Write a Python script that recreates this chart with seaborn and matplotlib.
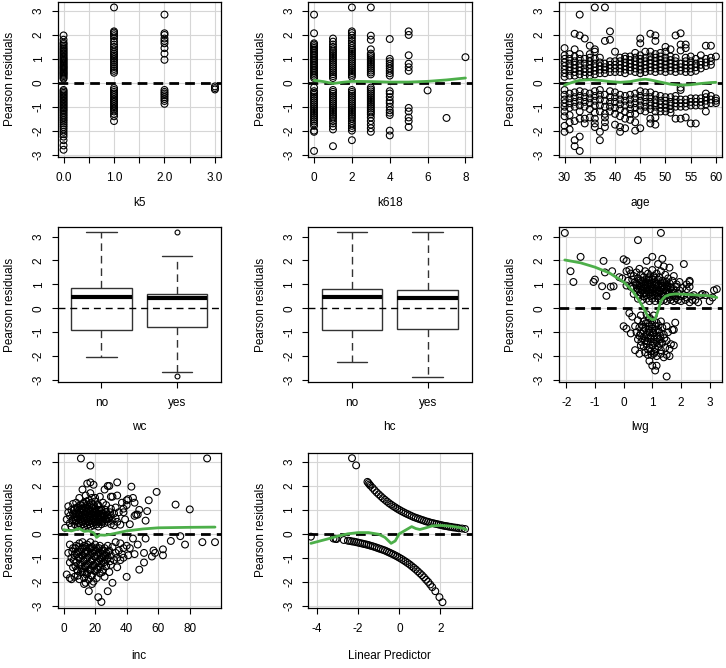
import matplotlib
matplotlib.use("Agg")
import matplotlib.pyplot as plt
import seaborn as sns
import pandas as pd

sns.set_theme(style="white")
plt.rcParams['font.family'] = ['Liberation Sans', 'DejaVu Sans']
plt.rcParams['axes.unicode_minus'] = False

# ---------------- data ----------------
YTICKS = [-3, -2, -1, 0, 1, 2, 3]

# k5
k5_levels = [0, 1, 2, 3]
k5_res_0 = [0.17, 0.22, 0.28, 0.33, 0.38, 0.42, 0.47, 0.52, 0.57, 0.62, 0.66, 0.71, 0.76, 0.81, 0.86,
            0.91, 0.96, 1.01, 1.06, 1.12, 1.18, 1.24, 1.3, 1.36, 1.42, 1.48, 1.55, 1.62, 1.68, 1.8, 1.98,
            -0.3, -0.36, -0.42, -0.48, -0.54, -0.6, -0.66, -0.72, -0.78, -0.84, -0.9, -0.96, -1.02, -1.08,
            -1.14, -1.2, -1.27, -1.34, -1.41, -1.48, -1.55, -1.62, -1.7, -1.78, -1.86, -1.95, -2.05, -2.15,
            -2.25, -2.4, -2.62, -2.8]
k5_res_1 = [0.42, 0.5, 0.58, 0.66, 0.75, 0.84, 0.92, 1.0, 1.08, 1.15, 1.22, 1.3, 1.4, 1.5, 1.6, 1.72,
            1.85, 1.95, 2.03, 2.1, 2.15, 3.15,
            -0.22, -0.3, -0.38, -0.45, -0.52, -0.6, -0.68, -0.75, -0.82, -0.9, -0.98, -1.05, -1.12, -1.2,
            -1.3, -1.4, -1.6]
k5_res_2 = [0.96, 1.22, 1.45, 1.65, 1.75, 1.85, 2.0, 2.07, 2.85,
            -0.3, -0.38, -0.45, -0.52, -0.6, -0.68, -0.76, -0.88]
k5_res_3 = [-0.15, -0.22, -0.28]

# k618
k618_levels = [0, 1, 2, 3, 4, 5, 6, 7, 8]
k618_res_0 = [0.2, 0.27, 0.34, 0.41, 0.48, 0.55, 0.62, 0.69, 0.76, 0.83, 0.9, 0.97, 1.04, 1.11, 1.18,
              1.25, 1.32, 1.39, 1.46, 1.53, 1.6, 1.65, 2.07, 2.85,
              -0.2, -0.35, -0.42, -0.5, -0.58, -0.66, -0.74, -0.82, -0.9, -0.98, -1.06, -1.14, -1.22,
              -1.3, -1.38, -1.46, -1.54, -1.62, -1.7, -1.8, -2.0, -2.05, -2.85]
k618_res_1 = [0.2, 0.28, 0.36, 0.44, 0.52, 0.6, 0.68, 0.76, 0.84, 0.92, 1.0, 1.08, 1.16, 1.24, 1.32,
              1.4, 1.5, 1.6, 1.72, 1.85,
              -0.3, -0.38, -0.46, -0.54, -0.62, -0.7, -0.78, -0.86, -0.94, -1.02, -1.1, -1.18, -1.26,
              -1.34, -1.42, -1.5, -1.6, -1.7, -1.82, -1.95, -2.65]
k618_res_2 = [0.25, 0.33, 0.41, 0.49, 0.57, 0.65, 0.73, 0.81, 0.89, 0.97, 1.05, 1.13, 1.21, 1.29, 1.37,
              1.45, 1.55, 1.65, 1.75, 1.87, 1.98, 2.08, 2.15, 3.15,
              -0.3, -0.38, -0.46, -0.54, -0.62, -0.7, -0.78, -0.86, -0.94, -1.02, -1.1, -1.18, -1.26,
              -1.34, -1.42, -1.5, -1.6, -1.7, -1.8, -1.9, -2.0, -2.4]
k618_res_3 = [0.35, 0.43, 0.51, 0.59, 0.67, 0.75, 0.83, 0.91, 0.99, 1.07, 1.15, 1.22, 1.4, 1.8, 1.97, 3.15,
              -0.2, -0.28, -0.36, -0.44, -0.52, -0.6, -0.68, -0.76, -0.84, -0.92, -1.0, -1.08, -1.16,
              -1.24, -1.32, -1.45, -1.6, -1.75, -1.9, -2.05]
k618_res_4 = [0.3, 0.4, 0.5, 0.6, 0.7, 0.8, 0.9, 1.0, 1.83,
              -0.35, -0.45, -0.6, -0.75, -0.85, -1.0, -1.15, -1.25, -1.35, -2.0, -2.2]
k618_res_5 = [0.5, 0.65, 0.8, 1.15, 2.0, 2.15, -1.05, -1.2, -1.45, -1.6, -1.85]
k618_res_6 = [-0.32]
k618_res_7 = [-1.47]
k618_res_8 = [1.07]
k618_smooth_x = [0, 0.5, 1, 1.5, 2, 3, 4, 5, 6, 7, 8]
k618_smooth_y = [0.1, 0.05, -0.03, 0.02, 0.06, 0.05, 0.03, 0.03, 0.06, 0.12, 0.2]

# age
age_levels = [30, 31, 32, 33, 34, 35, 36, 37, 38, 39, 40, 41, 42, 43, 44, 45,
              46, 47, 48, 49, 50, 51, 52, 53, 54, 55, 56, 57, 58, 59, 60]
age_res = [
    [0.25, 0.4, 0.55, 0.7, 0.85, 1.0, 1.15, 1.45, -0.3, -0.5, -0.7, -0.85, -1.0, -1.2, -1.4, -1.8, -2.05],
    [0.3, 0.5, 0.65, 0.8, 1.0, 1.2, -0.45, -0.65, -0.85, -1.05, -1.35, -1.65, -1.95],
    [0.3, 0.45, 0.6, 0.75, 0.9, 1.1, 1.4, 2.05, -0.4, -0.6, -0.8, -1.0, -1.6, -2.4, -2.65],
    [0.35, 0.5, 0.65, 0.8, 1.0, 1.2, 1.98, 2.85, -0.35, -0.55, -0.75, -0.95, -1.2, -1.5, -2.25, -2.85],
    [0.3, 0.45, 0.6, 0.8, 1.0, 1.85, -0.4, -0.6, -0.8, -1.0, -1.5, -1.7],
    [0.3, 0.45, 0.6, 0.75, 0.9, 1.05, 1.2, 1.55, -0.45, -0.65, -0.85, -1.1, -1.45],
    [0.35, 0.5, 0.65, 0.8, 1.0, 1.3, 1.4, 3.15, -0.35, -0.55, -0.75, -0.95, -1.25, -1.5, -1.7, -1.85],
    [0.4, 0.55, 0.7, 0.85, 1.05, -0.3, -0.5, -0.7, -0.95, -1.2, -2.05, -2.4],
    [0.4, 0.55, 0.65, 0.8, 1.75, 3.15, -0.5, -0.75, -1.0, -1.3, -1.45, -1.65, -1.85],
    [0.45, 0.6, 0.75, 0.9, 1.8, 2.15, -0.35, -0.6, -0.8, -1.0, -1.2],
    [0.45, 0.6, 0.75, 0.9, 1.3, -0.4, -0.6, -0.8, -1.05, -1.3, -1.75],
    [0.45, 0.6, 0.75, 0.9, 1.05, -0.5, -0.7, -0.9, -1.1, -1.4, -1.85, -2.05],
    [0.4, 0.55, 0.7, 0.85, 1.0, 1.1, -0.55, -0.75, -0.95, -1.2, -1.5, -1.9],
    [0.5, 0.65, 0.8, 0.95, 1.1, -0.5, -0.7, -0.9, -1.1, -1.3, -1.55],
    [0.45, 0.6, 0.75, 0.9, 1.05, 1.25, -0.45, -0.65, -0.85, -1.05, -1.3, -1.65, -2.0],
    [0.4, 0.55, 0.7, 0.85, 1.0, 1.15, 1.65, 1.85, -0.35, -0.55, -0.75, -0.95, -1.15, -1.9],
    [0.45, 0.6, 0.75, 0.9, 1.05, 1.3, -0.4, -0.6, -0.8, -1.0, -1.2],
    [0.5, 0.65, 0.8, 0.95, 1.1, 1.3, 2.05, -0.4, -0.6, -0.8, -0.95, -1.1, -1.5, -1.7],
    [0.45, 0.6, 0.75, 0.9, 1.05, 1.2, 1.75, 1.98, -0.5, -0.7, -0.85, -1.0, -1.2, -1.45, -1.75],
    [0.5, 0.65, 0.8, 0.95, 1.1, 1.25, -0.55, -0.75, -0.9, -1.05, -1.2],
    [0.45, 0.6, 0.75, 0.9, 1.05, 1.3, 1.5, -0.6, -0.75, -0.9, -1.05, -1.2],
    [0.5, 0.65, 0.8, 0.95, 1.1, 1.4, -0.6, -0.8, -0.95, -1.1, -1.25],
    [0.45, 0.6, 0.75, 0.9, 1.05, 1.98, -0.55, -0.7, -0.85, -1.0, -1.5],
    [0.5, 0.65, 0.8, 1.35, 1.6, 2.07, -0.2, -0.3, -0.7, -0.85, -1.0, -1.5],
    [0.45, 0.6, 0.75, 0.9, 1.05, 1.45, 1.6, -0.7, -0.85, -1.0, -1.45],
    [0.45, 0.6, 0.75, 0.9, 1.1, -0.65, -0.8, -0.95, -1.7],
    [0.5, 0.65, 0.8, 1.0, -0.65, -0.8, -0.95, -1.7],
    [0.6, 0.75, 0.9, 1.15, -0.65, -0.8, -0.95],
    [0.7, 0.85, 1.0, 1.55, -0.45, -0.6, -0.75, -0.9, -1.2],
    [0.75, 0.9, 1.05, 1.55, -0.55, -0.7, -0.85],
    [1.1, -0.65, -0.75, -0.85],
]
age_smooth_x = [30, 31, 32, 33, 35, 37, 39, 41, 43, 45, 46, 47, 49, 51, 53, 55, 57, 59, 60]
age_smooth_y = [-0.1, -0.02, 0.05, 0.1, 0.13, 0.1, 0.05, 0.02, 0.05, 0.13, 0.15, 0.12, 0.03, -0.06,
                -0.1, -0.08, -0.03, 0.01, 0.02]

# wc / hc box statistics
box_groups = ['no', 'yes']
wc_q1 = [-0.92, -0.78]
wc_med = [0.47, 0.42]
wc_q3 = [0.83, 0.60]
wc_whislo = [-2.05, -2.65]
wc_whishi = [3.17, 2.17]
wc_fliers = [[], [3.17, -2.85]]
hc_q1 = [-0.92, -0.87]
hc_med = [0.46, 0.42]
hc_q3 = [0.79, 0.75]
hc_whislo = [-2.25, -2.87]
hc_whishi = [3.17, 3.17]
hc_fliers = [[], []]

# lwg
lwg_points = [
    (0.1, 1.55), (0.2, 1.6), (0.25, 1.45), (0.35, 1.35), (0.45, 1.5), (0.55, 1.65), (0.6, 1.4), (0.7, 1.3),
    (0.75, 1.55), (0.85, 1.45), (0.9, 1.3), (1.0, 1.6), (1.05, 1.35), (1.15, 1.45), (1.25, 1.3), (1.3, 1.55),
    (1.45, 1.4), (1.55, 1.25), (1.6, 1.7), (1.75, 1.35),
    (-0.05, 1.25), (0.15, 1.15), (0.3, 1.2), (0.4, 1.1), (0.5, 1.25), (0.55, 1.05), (0.65, 1.15), (0.7, 1.0),
    (0.8, 1.2), (0.85, 1.05), (0.9, 1.15), (0.95, 1.0), (1.0, 1.2), (1.1, 1.1), (1.15, 1.0), (1.2, 1.2),
    (1.3, 1.05), (1.35, 1.15), (1.45, 1.0), (1.5, 1.1), (1.6, 1.05), (1.7, 1.15), (1.85, 1.0), (1.95, 1.1),
    (2.2, 1.0), (2.3, 1.1),
    (0.1, 0.95), (0.25, 0.9), (0.35, 0.85), (0.45, 0.95), (0.5, 0.8), (0.6, 0.9), (0.65, 0.75), (0.7, 0.85),
    (0.75, 0.95), (0.8, 0.75), (0.85, 0.9), (0.9, 0.8), (0.95, 0.9), (1.0, 0.75), (1.05, 0.85), (1.1, 0.95),
    (1.15, 0.8), (1.2, 0.9), (1.25, 0.75), (1.3, 0.85), (1.35, 0.95), (1.4, 0.8), (1.5, 0.9), (1.55, 0.75),
    (1.65, 0.85), (1.75, 0.8), (1.85, 0.9), (1.95, 0.75), (2.05, 0.85), (2.2, 0.8), (2.3, 0.9),
    (0.35, 0.6), (0.45, 0.7), (0.55, 0.55), (0.6, 0.65), (0.7, 0.5), (0.75, 0.65), (0.8, 0.55), (0.9, 0.6),
    (0.95, 0.5), (1.0, 0.65), (1.1, 0.55), (1.15, 0.65), (1.2, 0.5), (1.3, 0.6), (1.4, 0.5), (1.45, 0.65),
    (1.55, 0.55), (1.6, 0.45), (1.7, 0.6), (1.8, 0.5), (1.9, 0.6), (2.0, 0.5), (2.1, 0.55), (2.2, 0.45),
    (2.35, 0.5), (2.45, 0.55),
    (0.5, 0.4), (0.65, 0.35), (0.8, 0.4), (0.9, 0.3), (1.0, 0.4), (1.1, 0.3), (1.2, 0.4), (1.3, 0.3),
    (1.4, 0.35), (1.5, 0.3), (1.65, 0.35), (1.75, 0.3), (1.9, 0.35), (2.0, 0.3), (2.15, 0.35), (2.3, 0.25),
    (2.4, 0.35),
    (-2.05, 3.15), (-1.85, 1.55), (-1.75, 1.1), (-1.5, 2.15), (-1.05, 1.1), (-1.0, 1.2), (-0.7, 1.98),
    (-0.75, 0.92), (-0.65, 1.5), (-0.6, 0.52), (-0.45, 0.9), (-0.4, 1.55), (-0.35, 0.92), (-0.15, 1.3),
    (0.0, 2.05), (0.1, 1.98), (0.5, 2.85), (1.3, 3.15), (0.8, 1.98), (1.0, 2.15), (1.2, 1.85), (1.35, 2.07),
    (1.4, 1.75), (2.1, 1.85), (2.3, 1.15), (2.5, 0.35), (2.7, 0.55), (2.75, 0.6), (2.85, 0.55), (3.1, 0.45),
    (3.15, 0.75), (3.25, 0.8), (3.0, 0.3), (2.6, 0.25),
    (0.6, -0.3), (0.8, -0.25), (0.9, -0.4), (1.05, -0.3), (0.5, -0.5), (0.7, -0.55), (0.85, -0.6), (1.0, -0.5),
    (1.15, -0.6), (1.3, -0.55), (0.4, -0.75), (0.55, -0.8), (0.65, -0.7), (0.75, -0.85), (0.9, -0.75),
    (1.0, -0.85), (1.1, -0.75), (1.2, -0.9), (1.35, -0.8), (1.5, -0.75), (1.7, -0.9), (0.45, -1.0),
    (0.6, -1.05), (0.7, -0.95), (0.8, -1.1), (0.9, -1.0), (0.95, -1.15), (1.05, -1.05), (1.15, -1.15),
    (1.25, -1.0), (1.4, -1.1), (1.55, -1.0), (0.5, -1.3), (0.65, -1.25), (0.75, -1.35), (0.85, -1.25),
    (0.95, -1.4), (1.05, -1.3), (1.15, -1.4), (1.25, -1.3), (1.35, -1.45), (1.5, -1.35), (1.65, -1.5),
    (0.6, -1.55), (0.7, -1.6), (0.8, -1.5), (0.9, -1.65), (1.0, -1.55), (1.1, -1.7), (1.2, -1.6), (1.3, -1.75),
    (1.45, -1.65), (1.6, -1.7), (0.75, -1.85), (0.85, -1.95), (0.95, -1.8), (1.05, -1.9), (1.15, -2.0),
    (1.3, -1.9), (1.4, -2.05), (1.5, -1.95), (0.9, -2.2), (1.0, -2.4), (1.1, -2.6), (1.15, -2.4), (1.5, -2.85),
    (0.4, -1.75), (0.0, -0.75), (0.1, -0.85), (0.25, -1.05), (0.2, -0.2), (0.3, -0.35), (1.75, -1.55),
    (1.8, -0.6), (1.75, -0.9), (0.55, -1.9), (1.6, -2.0),
]
lwg_core_points = [
    (0.55, 0.95), (0.62, 0.78), (0.68, 1.08), (0.72, 0.62), (0.78, 0.88), (0.82, 1.0), (0.88, 0.68),
    (0.92, 1.05), (0.98, 0.82), (1.02, 0.55), (1.08, 0.72), (1.12, 1.02), (1.18, 0.62), (1.22, 0.98),
    (1.28, 0.7), (1.32, 0.92), (1.38, 0.62), (1.42, 1.08), (1.48, 0.72), (1.52, 0.95), (1.58, 0.65),
    (1.62, 0.88), (1.68, 0.72), (1.72, 0.52), (1.78, 0.65), (1.82, 0.42), (0.58, 1.18), (0.88, 1.25),
    (1.08, 1.28), (0.42, 1.02),
    (0.68, -0.78), (0.72, -1.18), (0.78, -0.62), (0.82, -1.38), (0.88, -0.9), (0.92, -1.22), (0.98, -0.68),
    (1.02, -1.02), (1.08, -1.48), (1.12, -0.92), (1.18, -1.25), (1.22, -0.72), (1.28, -1.15), (0.62, -1.4),
    (0.85, -1.72), (1.08, -1.82), (1.25, -1.48), (0.98, -1.95), (0.55, -1.15), (1.42, -1.25),
]
lwg_smooth_x = [-2.05, -1.5, -1.0, -0.5, 0.0, 0.3, 0.5, 0.7, 0.85, 1.0, 1.1, 1.2, 1.3, 1.45, 1.6, 1.8,
                2.2, 2.6, 3.0, 3.25]
lwg_smooth_y = [2.02, 1.9, 1.72, 1.48, 1.1, 0.75, 0.4, 0.0, -0.35, -0.48, -0.45, -0.1, 0.3, 0.5, 0.57,
                0.6, 0.58, 0.55, 0.52, 0.45]

# inc
inc_points = [
    (2, 0.6), (3, 0.9), (3, 1.15), (4, 0.45), (4, 0.75), (5, 1.0), (5, 0.3), (6, 0.6), (6, 0.85), (6, 1.25),
    (7, 0.4), (7, 0.7), (7, 1.05), (8, 0.55), (8, 0.9), (8, 1.3), (9, 0.3), (9, 0.65), (9, 1.1), (10, 0.45),
    (10, 0.8), (10, 1.0), (10, 1.5), (11, 0.35), (11, 0.6), (11, 0.9), (11, 1.2), (12, 0.5), (12, 0.75),
    (12, 1.05), (12, 1.85), (13, 0.3), (13, 0.65), (13, 0.95), (13, 1.3), (14, 0.45), (14, 0.8), (14, 1.1),
    (14, 1.6), (15, 0.35), (15, 0.6), (15, 0.9), (15, 1.2), (15, 2.1), (16, 0.5), (16, 0.75), (16, 1.0),
    (16, 1.4), (17, 0.3), (17, 0.65), (17, 0.95), (17, 1.7), (17, 2.15), (18, 0.45), (18, 0.8), (18, 1.1),
    (18, 1.5), (19, 0.35), (19, 0.6), (19, 0.9), (19, 2.05), (20, 0.5), (20, 0.75), (20, 1.05), (20, 1.35),
    (21, 0.4), (21, 0.7), (21, 1.0), (22, 0.3), (22, 0.6), (22, 0.85), (22, 1.2), (23, 0.5), (23, 0.8),
    (23, 1.55), (24, 0.4), (24, 0.7), (24, 1.0), (25, 0.55), (25, 0.85), (25, 1.3), (26, 0.45), (26, 0.75),
    (27, 0.6), (27, 0.9), (27, 1.2), (28, 0.5), (28, 0.8), (29, 0.65), (29, 2.0), (30, 0.4), (30, 0.75),
    (30, 1.05), (31, 0.55), (31, 1.55), (32, 0.85), (32, 0.35), (33, 0.65), (33, 1.1), (34, 0.5), (34, 1.6),
    (34, 2.15), (35, 0.9), (36, 0.38), (37, 1.3), (38, 0.9), (38, 1.05), (39, 0.6), (40, 1.4), (40, 1.2),
    (41, 1.45), (42, 0.4), (43, 1.97), (44, 1.5), (45, 0.75), (45, 1.3), (46, 0.8), (47, 0.8), (48, 1.0),
    (1, 0.25), (11, 3.15), (17, 2.85), (91, 3.15), (71, 1.22), (80, 1.02), (59, 1.75), (53, 0.95), (52, 0.55),
    (54, 1.4), (28, 2.0), (26, 1.85), (20, 1.5), (30, 1.55),
    (3, -0.8), (4, -1.2), (4, -0.45), (5, -1.9), (5, -1.0), (6, -0.6), (6, -1.4), (7, -0.9), (7, -1.8),
    (8, -0.5), (8, -1.2), (9, -0.75), (9, -1.55), (10, -0.4), (10, -1.0), (10, -1.9), (11, -0.65), (11, -1.3),
    (12, -0.9), (12, -1.6), (12, -0.35), (13, -0.5), (13, -1.15), (13, -1.85), (14, -0.75), (14, -1.4),
    (14, -2.05), (15, -0.45), (15, -1.0), (15, -1.65), (16, -0.6), (16, -1.25), (16, -1.9), (16, -2.4),
    (17, -0.35), (17, -0.85), (17, -1.5), (18, -0.55), (18, -1.1), (18, -1.75), (18, -2.1), (19, -0.7),
    (19, -1.3), (19, -2.0), (20, -0.45), (20, -0.95), (20, -1.55), (21, -0.6), (21, -1.2), (21, -1.85),
    (22, -0.8), (22, -1.4), (22, -2.65), (23, -0.5), (23, -1.05), (23, -1.65), (24, -0.7), (24, -1.25),
    (24, -2.85), (25, -0.9), (25, -1.5), (26, -0.6), (26, -1.1), (26, -1.8), (27, -0.8), (27, -1.35),
    (28, -0.5), (28, -1.0), (28, -2.4), (29, -0.7), (29, -1.6), (30, -0.9), (30, -1.3), (31, -0.55),
    (31, -2.05), (32, -1.1), (33, -0.35), (33, -0.8), (34, -1.0), (34, -1.4), (35, -0.7), (36, -1.1),
    (36, -0.4), (37, -0.85), (38, -0.6), (38, -1.0), (40, -1.8), (40, -0.5), (41, -0.9), (42, -0.6),
    (44, -0.2), (45, -0.85), (47, -0.45), (48, -1.5), (51, -1.2), (52, -0.2), (51, -0.8), (56, -0.95),
    (57, -0.7), (58, -0.8), (63, -0.65), (63, -0.9), (68, -0.3), (74, -0.1), (77, -0.45), (88, -0.35),
    (96, -0.35), (2, -1.7), (4, -1.85), (9, -1.75), (13, -2.1), (11, -1.6),
]
inc_core_points = [
    (5.5, 0.55), (6.5, 1.0), (7.5, 0.55), (7.5, 0.85), (8.5, 0.7), (8.5, 1.1), (9.5, 0.45), (9.5, 0.85),
    (10.5, 0.6), (10.5, 1.2), (11.5, 0.75), (11.5, 1.05), (12.5, 0.4), (12.5, 0.9), (12.5, 1.25),
    (13.5, 0.55), (13.5, 0.8), (13.5, 1.1), (14.5, 0.65), (14.5, 0.95), (14.5, 1.35), (15.5, 0.5),
    (15.5, 0.8), (15.5, 1.05), (16.5, 0.4), (16.5, 0.85), (16.5, 1.2), (17.5, 0.55), (17.5, 0.8),
    (17.5, 1.3), (18.5, 0.65), (18.5, 0.95), (19.5, 0.5), (19.5, 0.8), (19.5, 1.15), (20.5, 0.6),
    (20.5, 0.9), (21.5, 0.5), (21.5, 0.85), (21.5, 1.2), (22.5, 0.7), (22.5, 1.0), (23.5, 0.6),
    (23.5, 0.95), (24.5, 0.5), (24.5, 0.85), (25.5, 0.7), (26.5, 0.6), (26.5, 1.0), (27.5, 0.75),
    (28.5, 0.65), (29.5, 0.9),
    (5.5, -0.75), (6.5, -1.1), (7.5, -0.6), (7.5, -1.35), (8.5, -0.85), (8.5, -1.5), (9.5, -1.0),
    (9.5, -0.55), (10.5, -0.75), (10.5, -1.25), (11.5, -0.9), (11.5, -1.45), (12.5, -0.6), (12.5, -1.1),
    (13.5, -0.8), (13.5, -1.35), (13.5, -1.6), (14.5, -0.55), (14.5, -1.05), (14.5, -1.7), (15.5, -0.75),
    (15.5, -1.3), (16.5, -0.9), (16.5, -1.5), (17.5, -0.6), (17.5, -1.15), (17.5, -1.75), (18.5, -0.8),
    (18.5, -1.35), (19.5, -0.95), (19.5, -1.55), (20.5, -0.7), (20.5, -1.25), (21.5, -0.9), (21.5, -1.5),
    (22.5, -0.6), (22.5, -1.15), (23.5, -0.8), (23.5, -1.4), (24.5, -1.0), (24.5, -1.6), (25.5, -0.7),
    (25.5, -1.2), (26.5, -0.9), (27.5, -1.05), (28.5, -0.75), (29.5, -1.15),
]
inc_smooth_x = [0, 5, 10, 13, 16, 19, 21, 23, 26, 30, 35, 40, 50, 60, 80, 96]
inc_smooth_y = [0.17, 0.12, 0.22, 0.1, 0.12, 0.05, -0.15, -0.05, -0.06, -0.02, 0.05, 0.12, 0.2, 0.25,
                0.27, 0.28]

# linear predictor
lp_up_x = [-2.3, -2.1, -1.55, -1.5, -1.45, -1.4, -1.3, -1.2, -1.1, -1.0, -0.9, -0.8, -0.7, -0.6, -0.5,
           -0.4, -0.3, -0.2, -0.1, 0.0, 0.1, 0.2, 0.3, 0.4, 0.5, 0.6, 0.7, 0.8, 0.9, 1.0, 1.1, 1.2, 1.3,
           1.4, 1.5, 1.6, 1.7, 1.8, 1.9, 2.0, 2.1, 2.2, 2.3, 2.4, 2.5, 2.6, 2.7, 2.8, 2.9, 3.05, 3.2]
lp_up_y = [3.16, 2.86, 2.17, 2.12, 2.06, 2.01, 1.92, 1.82, 1.73, 1.65, 1.57, 1.49, 1.42, 1.35, 1.28,
           1.22, 1.16, 1.105, 1.05, 1.0, 0.95, 0.905, 0.86, 0.82, 0.78, 0.74, 0.70, 0.67, 0.64, 0.61,
           0.58, 0.55, 0.52, 0.50, 0.47, 0.45, 0.43, 0.41, 0.39, 0.37, 0.35, 0.33, 0.32, 0.30, 0.29,
           0.27, 0.26, 0.25, 0.23, 0.22, 0.20]
lp_low_x = [-4.3, -3.2, -3.1, -3.05, -2.7, -2.5, -2.4, -2.3, -2.2, -2.1, -2.0, -1.9, -1.8, -1.7, -1.6,
            -1.5, -1.4, -1.3, -1.2, -1.1, -1.0, -0.9, -0.8, -0.7, -0.6, -0.5, -0.4, -0.3, -0.2, -0.1,
            0.0, 0.1, 0.2, 0.3, 0.4, 0.5, 0.6, 0.7, 0.8, 0.9, 1.0, 1.1, 1.2, 1.3, 1.4, 1.5, 1.6, 1.75,
            1.95, 2.1]
lp_low_y = [-0.12, -0.20, -0.21, -0.22, -0.26, -0.29, -0.30, -0.32, -0.33, -0.35, -0.37, -0.39, -0.41,
            -0.43, -0.45, -0.47, -0.50, -0.52, -0.55, -0.58, -0.61, -0.64, -0.67, -0.70, -0.74, -0.78,
            -0.82, -0.86, -0.905, -0.95, -1.0, -1.05, -1.105, -1.16, -1.22, -1.28, -1.35, -1.42, -1.49,
            -1.57, -1.65, -1.73, -1.82, -1.92, -2.01, -2.12, -2.23, -2.40, -2.65, -2.86]
lp_smooth_x = [-4.3, -3.5, -3.0, -2.5, -2.0, -1.5, -1.0, -0.7, -0.4, -0.2, 0.0, 0.3, 0.6, 0.8, 1.0,
               1.3, 1.6, 2.0, 2.5, 3.0, 3.25]
lp_smooth_y = [-0.4, -0.22, -0.1, 0.0, 0.05, 0.05, -0.02, -0.15, -0.4, -0.3, 0.0, 0.15, 0.3, 0.22,
               0.18, 0.25, 0.33, 0.35, 0.32, 0.25, 0.18]

# ---------------- drawing ----------------
GREEN = '#4daf4a'
GRIDC = '#d6d6d6'
YLIM = (-3.09, 3.39)
W, H = 726, 668
fig = plt.figure(figsize=(W / 100, H / 100), dpi=100)

COL_LEFT = [57.5, 308, 558.5]
ROW_TOP = [1.7, 227.2, 452.7]
AW, AH = 163.5, 155
XLAB_OFF = [46, 45, 48]
YLAB_OFF = 47


def make_ax(r, c):
    return fig.add_axes([COL_LEFT[c] / W, 1 - (ROW_TOP[r] + AH) / H, AW / W, AH / H])


def style(ax, r, xlabel, xlim, xticks, xticklabels, grid=True):
    ax.set_xlim(xlim)
    ax.set_ylim(YLIM)
    ax.set_xticks(xticks)
    ax.set_xticklabels(xticklabels)
    ax.set_yticks(YTICKS)
    ax.set_yticklabels([str(v) for v in YTICKS], rotation=90, va='center')
    ax.tick_params(axis='both', which='both', direction='out', length=4.3, width=0.8,
                   labelsize=8.5, colors='black', bottom=True, left=True, top=False, right=False)
    ax.tick_params(axis='x', pad=6.5)
    ax.tick_params(axis='y', pad=5)
    for sp in ax.spines.values():
        sp.set_color('black')
        sp.set_linewidth(0.9)
    if grid:
        ax.set_axisbelow(True)
        for xv in xticks:
            ax.axvline(xv, color=GRIDC, lw=0.8, zorder=0)
        for yv in YTICKS:
            ax.axhline(yv, color=GRIDC, lw=0.8, zorder=0)
    ax.set_xlabel(xlabel, fontsize=8.5, color='black')
    ax.set_ylabel('Pearson residuals', fontsize=8.5, color='black')
    ax.xaxis.label.set_verticalalignment('center')
    ax.yaxis.label.set_verticalalignment('center')
    ax.xaxis.set_label_coords(0.5, -XLAB_OFF[r] / AH)
    ax.yaxis.set_label_coords(-YLAB_OFF / AW, 0.5)


def points(ax, x, y):
    sns.scatterplot(x=list(x), y=list(y), ax=ax, marker='o', s=24, color='black',
                    facecolors='none', edgecolor='black', linewidth=0.8, zorder=2, legend=False)


def zero_line(ax):
    ax.axhline(0, color='black', lw=2, dashes=(3.5, 2.2), zorder=3)


def smooth(ax, x, y):
    sns.lineplot(x=x, y=y, ax=ax, color=GREEN, lw=2, estimator=None, sort=True, zorder=4)


def level_points(levels, res_lists):
    xs, ys = [], []
    for lv, rs in zip(levels, res_lists):
        xs += [lv] * len(rs)
        ys += rs
    return xs, ys


# k5
ax = make_ax(0, 0)
x, y = level_points(k5_levels, [k5_res_0, k5_res_1, k5_res_2, k5_res_3])
points(ax, x, y)
zero_line(ax)
style(ax, 0, 'k5', (-0.12, 3.12), [0, 0.5, 1, 1.5, 2, 2.5, 3],
      ['0.0', '', '1.0', '', '2.0', '', '3.0'])

# k618
ax = make_ax(0, 1)
x, y = level_points(k618_levels, [k618_res_0, k618_res_1, k618_res_2, k618_res_3, k618_res_4,
                                  k618_res_5, k618_res_6, k618_res_7, k618_res_8])
points(ax, x, y)
zero_line(ax)
smooth(ax, k618_smooth_x, k618_smooth_y)
style(ax, 0, 'k618', (-0.32, 8.32), [0, 2, 4, 6, 8], ['0', '2', '4', '6', '8'])

# age
ax = make_ax(0, 2)
x, y = level_points(age_levels, age_res)
points(ax, x, y)
zero_line(ax)
smooth(ax, age_smooth_x, age_smooth_y)
style(ax, 0, 'age', (28.8, 61.2), [30, 35, 40, 45, 50, 55, 60],
      ['30', '35', '40', '45', '50', '55', '60'])


def boxes(ax, q1, med, q3, lo, hi, fliers):
    stats = []
    for i in range(len(box_groups)):
        stats.append(dict(med=med[i], q1=q1[i], q3=q3[i], whislo=lo[i], whishi=hi[i],
                          fliers=fliers[i], label=box_groups[i]))
    ax.bxp(stats, positions=[1, 2], widths=0.8, capwidths=0.4, patch_artist=True,
           boxprops=dict(facecolor='white', edgecolor='#333333', linewidth=1.0),
           medianprops=dict(color='black', linewidth=3, solid_capstyle='butt'),
           whiskerprops=dict(color='#333333', linewidth=1.0, dashes=(5.5, 3.5)),
           capprops=dict(color='#333333', linewidth=1.0),
           flierprops=dict(marker='o', markerfacecolor='none', markeredgecolor='black',
                           markersize=3.5, markeredgewidth=0.8))
    ax.axhline(0, color='black', lw=1, dashes=(5, 3.5), zorder=5)


ax = make_ax(1, 0)
boxes(ax, wc_q1, wc_med, wc_q3, wc_whislo, wc_whishi, wc_fliers)
style(ax, 1, 'wc', (0.42, 2.58), [1, 2], box_groups, grid=False)

ax = make_ax(1, 1)
boxes(ax, hc_q1, hc_med, hc_q3, hc_whislo, hc_whishi, hc_fliers)
style(ax, 1, 'hc', (0.42, 2.58), [1, 2], box_groups, grid=False)

# lwg
ax = make_ax(1, 2)
lx, ly = zip(*(lwg_points + lwg_core_points))
points(ax, lx, ly)
zero_line(ax)
smooth(ax, lwg_smooth_x, lwg_smooth_y)
style(ax, 1, 'lwg', (-2.27, 3.43), [-2, -1, 0, 1, 2, 3], ['-2', '-1', '0', '1', '2', '3'])

# inc
ax = make_ax(2, 0)
ix, iy = zip(*(inc_points + inc_core_points))
points(ax, ix, iy)
zero_line(ax)
smooth(ax, inc_smooth_x, inc_smooth_y)
style(ax, 2, 'inc', (-3.84, 99.8), [0, 20, 40, 60, 80], ['0', '20', '40', '60', '80'])

# linear predictor
ax = make_ax(2, 1)
points(ax, lp_up_x + lp_low_x, lp_up_y + lp_low_y)
zero_line(ax)
smooth(ax, lp_smooth_x, lp_smooth_y)
style(ax, 2, 'Linear Predictor', (-4.44, 3.51), [-4, -2, 0, 2], ['-4', '-2', '0', '2'])

fig.savefig('out.png', dpi=100)
